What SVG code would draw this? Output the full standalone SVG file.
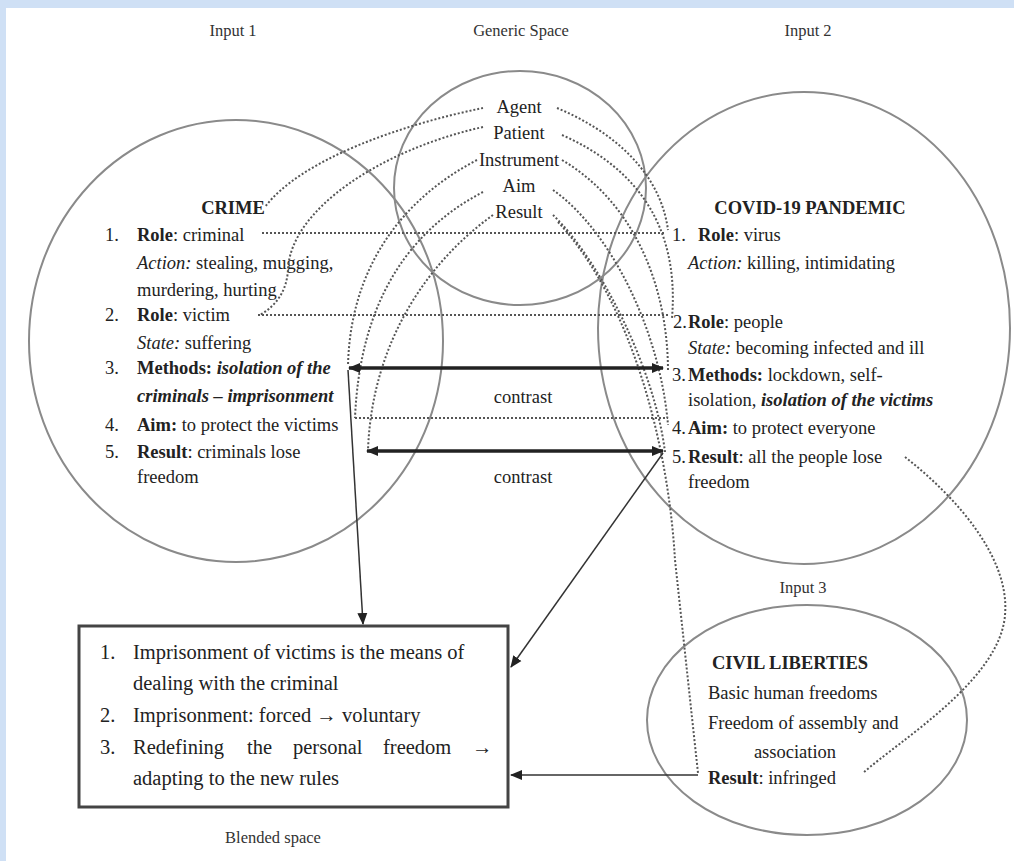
<svg xmlns="http://www.w3.org/2000/svg" width="1014" height="861" viewBox="0 0 1014 861">
<defs>
<style>
.lbl{font-family:"Liberation Serif","Times New Roman",serif;font-size:16.5px;fill:#333}
.t{font-family:"Liberation Serif","Times New Roman",serif;font-size:18.5px;fill:#222}
.bx{font-family:"Liberation Serif","Times New Roman",serif;font-size:20.5px;fill:#222}
.b{font-weight:bold}
.i{font-style:italic}
.space{fill:none;stroke:#8a8a8a;stroke-width:2}
.dot{fill:none;stroke:#555;stroke-width:2;stroke-dasharray:2 2}
.thin{fill:none;stroke:#333;stroke-width:1.5}
.thick{fill:none;stroke:#222;stroke-width:3.5}
</style>
<marker id="ah" markerWidth="12" markerHeight="12" refX="11" refY="6" orient="auto" markerUnits="userSpaceOnUse"><path d="M0,1 L12,6 L0,11 z" fill="#222"/></marker>
<marker id="ahd" markerWidth="12" markerHeight="12" refX="11" refY="6" orient="auto-start-reverse" markerUnits="userSpaceOnUse"><path d="M0,1 L12,6 L0,11 z" fill="#222"/></marker>
</defs>
<rect x="0" y="0" width="1014" height="861" fill="#ffffff"/>
<rect x="0" y="0" width="1014" height="8" fill="#cfe0f5"/>
<rect x="0" y="0" width="6" height="861" fill="#cfe0f5"/>

<g id="labels">
<text class="lbl" x="233" y="36" text-anchor="middle">Input 1</text>
<text class="lbl" x="521" y="36" text-anchor="middle">Generic Space</text>
<text class="lbl" x="808" y="36" text-anchor="middle">Input 2</text>
<text class="lbl" x="803" y="593" text-anchor="middle">Input 3</text>
<text class="lbl" x="273" y="843" text-anchor="middle">Blended space</text>
</g>

<g id="input1">
<ellipse class="space" cx="236" cy="341" rx="207" ry="221"/>
<text class="t b" x="233" y="214" text-anchor="middle">CRIME</text>
<text class="t" x="105" y="241">1.</text>
<text class="t" x="137" y="241"><tspan class="b">Role</tspan>: criminal</text>
<text class="t" x="137" y="269"><tspan class="i">Action:</tspan> stealing, mugging,</text>
<text class="t" x="137" y="296">murdering, hurting</text>
<text class="t" x="105" y="321">2.</text>
<text class="t" x="137" y="321"><tspan class="b">Role</tspan>: victim</text>
<text class="t" x="137" y="349"><tspan class="i">State:</tspan> suffering</text>
<text class="t" x="105" y="374">3.</text>
<text class="t" x="137" y="374"><tspan class="b">Methods: </tspan><tspan class="b i">isolation of the</tspan></text>
<text class="t b i" x="137" y="402">criminals – imprisonment</text>
<text class="t" x="105" y="431">4.</text>
<text class="t" x="137" y="431"><tspan class="b">Aim:</tspan> to protect the victims</text>
<text class="t" x="105" y="458">5.</text>
<text class="t" x="137" y="458"><tspan class="b">Result</tspan>: criminals lose</text>
<text class="t" x="137" y="483">freedom</text>
</g>

<g id="generic">
<ellipse class="space" cx="520" cy="188" rx="126" ry="117"/>
<text class="t" x="519" y="113" text-anchor="middle">Agent</text>
<text class="t" x="519" y="139" text-anchor="middle">Patient</text>
<text class="t" x="519" y="166" text-anchor="middle">Instrument</text>
<text class="t" x="519" y="192" text-anchor="middle">Aim</text>
<text class="t" x="519" y="218" text-anchor="middle">Result</text>
</g>

<g id="input2">
<ellipse class="space" cx="804" cy="328" rx="206" ry="236"/>
<text class="t b" x="810" y="214" text-anchor="middle" font-size="19.5">COVID-19 PANDEMIC</text>
<text class="t" x="672" y="241">1.</text>
<text class="t" x="698" y="241"><tspan class="b">Role</tspan>: virus</text>
<text class="t" x="688" y="269"><tspan class="i">Action:</tspan> killing, intimidating</text>
<text class="t" x="673" y="328">2.</text>
<text class="t" x="688" y="328"><tspan class="b">Role</tspan>: people</text>
<text class="t" x="688" y="354"><tspan class="i">State:</tspan> becoming infected and ill</text>
<text class="t" x="672" y="381">3.</text>
<text class="t" x="688" y="381"><tspan class="b">Methods:</tspan> lockdown, self-</text>
<text class="t" x="688" y="406">isolation, <tspan class="b i">isolation of the victims</tspan></text>
<text class="t" x="672" y="434">4.</text>
<text class="t" x="688" y="434"><tspan class="b">Aim:</tspan> to protect everyone</text>
<text class="t" x="672" y="463">5.</text>
<text class="t" x="688" y="463"><tspan class="b">Result</tspan>: all the people lose</text>
<text class="t" x="688" y="488">freedom</text>
</g>

<g id="input3">
<ellipse class="space" cx="807" cy="720" rx="160" ry="115"/>
<text class="t b" x="712" y="669">CIVIL LIBERTIES</text>
<text class="t" x="708" y="699">Basic human freedoms</text>
<text class="t" x="708" y="729">Freedom of assembly and</text>
<text class="t" x="795" y="758" text-anchor="middle">association</text>
<text class="t" x="708" y="784"><tspan class="b">Result</tspan>: infringed</text>
</g>

<g id="blended">
<rect x="79" y="626" width="429" height="181" fill="none" stroke="#444" stroke-width="3"/>
<text class="bx" x="100" y="659">1.</text>
<text class="bx" x="133" y="659">Imprisonment of victims is the means of</text>
<text class="bx" x="133" y="690">dealing with the criminal</text>
<text class="bx" x="100" y="722">2.</text>
<text class="bx" x="133" y="722">Imprisonment: forced → voluntary</text>
<text class="bx" x="100" y="754">3.</text>
<text class="bx" x="133" y="754">Redefining</text>
<text class="bx" x="247" y="754">the</text>
<text class="bx" x="293" y="754">personal</text>
<text class="bx" x="383" y="754">freedom</text>
<text class="bx" x="472" y="754">→</text>
<text class="bx" x="133" y="785">adapting to the new rules</text>
</g>

<g id="connectors">
<path class="dot" d="M483,108 C400,125 300,160 265,207"/>
<path class="dot" d="M483,127 C380,150 290,210 288,270 Q286,300 260,315"/>
<path class="dot" d="M477,160 C400,200 350,270 348,366"/>
<path class="dot" d="M483,192 C410,230 360,300 355,418"/>
<path class="dot" d="M493,215 C430,260 372,340 368,450"/>
<path class="dot" d="M557,108 C610,130 660,170 668,230"/>
<path class="dot" d="M562,135 C630,165 680,220 672,318"/>
<path class="dot" d="M562,160 C630,200 668,280 668,372"/>
<path class="dot" d="M553,190 C610,230 660,330 668,425"/>
<path class="dot" d="M553,215 C600,260 655,370 665,452"/>
<path class="dot" d="M558,222 C630,300 668,440 675,560 L698,773"/>
<path class="dot" d="M262,233 L665,233"/>
<path class="dot" d="M258,315 L670,315"/>
<path class="dot" d="M355,418 L668,418"/>
<path class="dot" d="M905,457 C960,500 1010,560 1005,615 C1000,680 900,740 863,773"/>
<path class="thick" d="M349,368 L663,368" marker-start="url(#ahd)" marker-end="url(#ahd)"/>
<path class="thick" d="M367,451 L663,451" marker-start="url(#ahd)" marker-end="url(#ahd)"/>
<text class="t" x="523" y="403" text-anchor="middle">contrast</text>
<text class="t" x="523" y="483" text-anchor="middle">contrast</text>
<path class="thin" d="M348,370 L363,624" marker-end="url(#ah)"/>
<path class="thin" d="M663,453 L511,667" marker-end="url(#ah)"/>
<path class="thin" d="M698,775 L511,775" marker-end="url(#ah)"/>
</g>
</svg>
